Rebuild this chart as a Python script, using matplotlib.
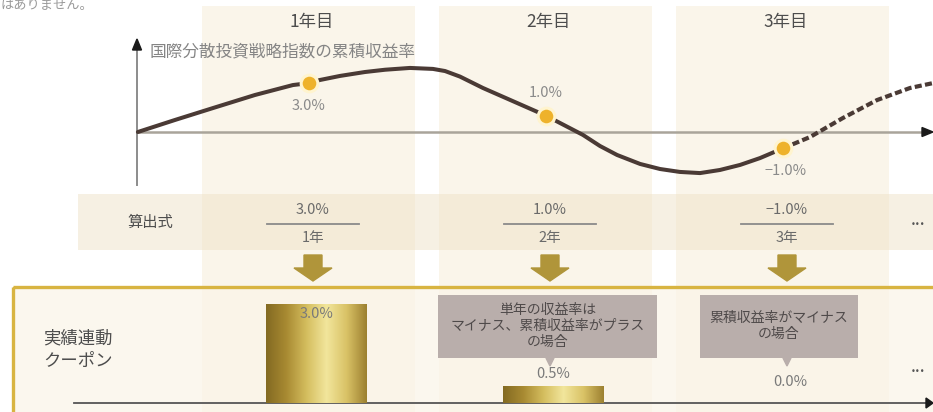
import numpy as np
import matplotlib
matplotlib.use("Agg")
import matplotlib.pyplot as plt
from matplotlib.patches import Rectangle, Polygon
from matplotlib.colors import LinearSegmentedColormap

plt.rcParams['font.family'] = ['Noto Sans CJK JP', 'DejaVu Sans']

# ---------------- data ----------------
year_labels = ["1年目", "2年目", "3年目"]
years = [1, 2, 3]
cum_returns = [3.0, 1.0, -1.0]          # cumulative return at each year (%)
coupons = [3.0, 0.5, 0.0]               # linked coupon (%)
point_labels = ["3.0%", "1.0%", "−1.0%"]
formula_num = ["3.0%", "1.0%", "−1.0%"]
formula_den = ["1年", "2年", "3年"]
coupon_labels = ["3.0%", "0.5%", "0.0%"]
callouts = [None, "単年の収益率は\nマイナス、累積収益率がプラス\nの場合", "累積収益率がマイナス\nの場合"]
axis_title = "国際分散投資戦略指数の累積収益率"
row1_title = "算出式"
row2_title = "実績連動\nクーポン"
top_note = "はありません。"

# index path (time in years, cumulative return in %)
path_t = [0.278, 0.435, 0.595, 0.772, 0.932, 1.0, 1.046, 1.131, 1.236, 1.321, 1.426,
          1.523, 1.574, 1.637, 1.734, 1.878, 2.0, 2.156, 2.228, 2.300, 2.397, 2.481,
          2.565, 2.650, 2.734, 2.819, 2.903, 3.0]
path_r = [0.0, 0.74, 1.47, 2.27, 2.88, 3.0, 3.19, 3.44, 3.68, 3.82, 3.93,
          3.87, 3.74, 3.40, 2.70, 1.78, 1.0, -0.18, -0.86, -1.41, -1.96, -2.27,
          -2.45, -2.52, -2.33, -2.02, -1.60, -1.0]
future_t = [3.0, 3.114, 3.253, 3.397, 3.536, 3.633]
future_r = [-1.0, -0.31, 0.86, 1.96, 2.70, 3.0]

# ---------------- figure ----------------
W, H = 933, 412
fig = plt.figure(figsize=(W / 100, H / 100), dpi=100)
fig.patch.set_facecolor("white")

bg = fig.add_axes([0, 0, 1, 1])
bg.set_xlim(0, W)
bg.set_ylim(H, 0)
bg.axis("off")

T0, T1 = -0.3038, 3.633          # time range across the figure width
ax = fig.add_axes([0, 0, 1, 1])
ax.set_xlim(T0, T1)
ax.set_ylim(-17.178, 8.098)
ax.axis("off")
ax.patch.set_alpha(0)

axb = fig.add_axes([0, 0, 1, 1])
axb.set_xlim(T0, T1)
axb.set_ylim(-0.273, 12.21)
axb.axis("off")
axb.patch.set_alpha(0)

def tx(t):
    return (t - T0) / (T1 - T0) * W

col_cream = "#faf4e8"
text_dark = "#4d4d4d"
text_gray = "#8a8a8a"

# coupon box fill
bg.add_patch(Rectangle((13, 287), 940, 140, facecolor="#fbf7ee", edgecolor="none", zorder=0.5))
# columns
col_w = 213
for y in years:
    cx = tx(y)
    bg.add_patch(Rectangle((cx - col_w / 2, 6), col_w, 420, facecolor=col_cream,
                           edgecolor="none", alpha=0.9, zorder=1))
# formula band
bg.add_patch(Rectangle((78, 194), 860, 56, facecolor="#efe3c8", edgecolor="none",
                       alpha=0.5, zorder=1.5))
# coupon box border
bg.add_patch(Rectangle((13, 287), 940, 140, facecolor="none", edgecolor="#d8b441",
                       linewidth=2.4, zorder=5))

# top note
bg.text(0, -1, top_note, fontsize=9.5, color="#9a9a9a", ha="left", va="top", zorder=3)

# year labels
for y, lab in zip(years, year_labels):
    bg.text(tx(y) + 3, 22, lab, fontsize=12.5, color=text_dark, ha="center", va="center", zorder=3)

# axes of the index chart
bg.plot([137, 137], [185, 48], color="#8c8c8c", lw=1.4, zorder=3)
bg.add_patch(Polygon([[132.5, 50], [141.5, 50], [137, 39]], closed=True, color="#1a1a1a", zorder=3))
bg.plot([137, 924], [132, 132], color="#a9a49a", lw=1.8, zorder=2)
bg.add_patch(Polygon([[922, 127.5], [922, 136.5], [933, 132]], closed=True, color="#1a1a1a", zorder=3))
bg.text(150, 52, axis_title, fontsize=12, color="#858585", ha="left", va="center", zorder=3)

# index curve
ax.plot(path_t, path_r, color="#4a3a35", lw=2.9, solid_capstyle="round",
        solid_joinstyle="round", zorder=4)
ax.plot(future_t, future_r, color="#4a3a35", lw=3.0, dashes=(1.7, 0.8),
        dash_capstyle="butt", zorder=4)
ax.plot(years, cum_returns, "o", ms=12, color="#eeb22b", mec="#fff4cf", mew=2.2, zorder=5)
offsets = [-23, 23, -23]
for y, r, lab, off in zip(years, cum_returns, point_labels, offsets):
    ax.annotate(lab, (y, r), xytext=(3 if y == 3 else 0, off), textcoords="offset pixels",
                ha="center", va="center", fontsize=10.5, color=text_gray, zorder=6)

# formula row
bg.text(150, 222, row1_title, fontsize=11, color=text_dark, ha="center", va="center", zorder=3)
for y, num, den in zip(years, formula_num, formula_den):
    cx = tx(y) + 4
    bg.text(cx, 210, num, fontsize=10.5, color="#6a6a6a", ha="center", va="center", zorder=3)
    bg.plot([cx - 46, cx + 46], [223.5, 223.5], color="#8a8a8a", lw=1.3, zorder=3)
    bg.text(cx, 238, den, fontsize=10.5, color="#6a6a6a", ha="center", va="center", zorder=3)
bg.text(918, 224, "•••", fontsize=6, color="#555555", ha="center", va="center",
        family="DejaVu Sans", zorder=3)
bg.text(918, 372, "•••", fontsize=6, color="#555555", ha="center", va="center",
        family="DejaVu Sans", zorder=3)

# down arrows
for y in years:
    cx = tx(y) + 4
    bg.add_patch(Polygon([[cx - 9, 255], [cx + 9, 255], [cx + 9, 268], [cx + 19, 268],
                          [cx, 281], [cx - 19, 268], [cx - 9, 268]], closed=True,
                         color="#b0953a", zorder=3))

# coupon row title
bg.text(43, 350, row2_title, fontsize=12.5, color=text_dark, ha="left", va="center",
        linespacing=1.3, zorder=6)

# callouts
for y, txt in zip(years, callouts):
    if txt is None:
        continue
    cx = tx(y) + 4
    if y == 2:
        x0, x1 = 438, 657
    else:
        x0, x1 = 700, 858
    bg.add_patch(Rectangle((x0, 295), x1 - x0, 63, facecolor="#b9aeab", edgecolor="none", zorder=6))
    bg.add_patch(Polygon([[cx - 4, 358], [cx + 4, 358], [cx, 366]], closed=True,
                         color="#b9aeab", zorder=6))
    bg.text((x0 + x1) / 2, 326, txt, fontsize=10, color="#4f4a4a", ha="center", va="center",
            linespacing=1.15, zorder=7)

# coupon bars with gold gradient
gold = LinearSegmentedColormap.from_list(
    "gold", ["#836a22", "#a88a32", "#d4bd5e", "#f2e69c", "#d9c266", "#9c8030"])
grad = np.linspace(0, 1, 256).reshape(1, -1)
bar_w = 0.425
bar_x = [y + 0.03 for y in years]
bars = axb.bar(bar_x, coupons, width=bar_w, color="none", edgecolor="none", zorder=4)
for b, c in zip(bars, coupons):
    if c <= 0:
        continue
    x0 = b.get_x()
    im = axb.imshow(grad, cmap=gold, aspect="auto", extent=[x0, x0 + bar_w, 0, c],
                    zorder=4, interpolation="bilinear")
    im.set_clip_path(b)
axb.set_xlim(T0, T1)
axb.set_ylim(-0.273, 12.21)

label_off = [-10, 12, 21]
for x, c, lab, off in zip(bar_x, coupons, coupon_labels, label_off):
    axb.annotate(lab, (x, c), xytext=(0, off), textcoords="offset pixels", ha="center",
                 va="center", fontsize=10.5, color="#7a7a7a", zorder=7)

# coupon baseline
bg.plot([74, 926], [403, 403], color="#555555", lw=1.3, zorder=6)
bg.add_patch(Polygon([[926, 398], [926, 408], [933, 403]], closed=True, color="#1a1a1a", zorder=6))

fig.savefig("out.png", dpi=100, facecolor="white")
